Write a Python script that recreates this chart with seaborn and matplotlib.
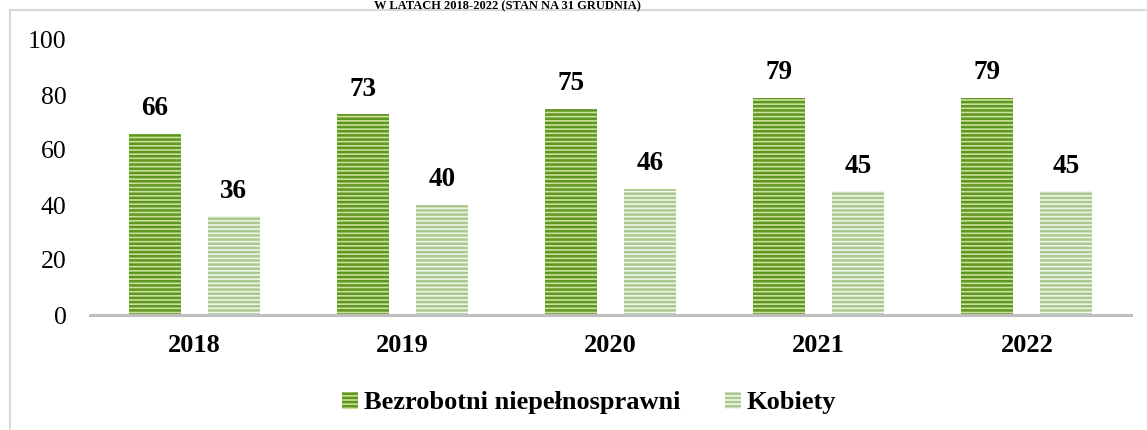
import matplotlib
matplotlib.use("Agg")
import matplotlib.pyplot as plt
import seaborn as sns
import pandas as pd
from matplotlib.patches import Rectangle, Patch

years = ["2018", "2019", "2020", "2021", "2022"]
series_names = ["Bezrobotni niepełnosprawni", "Kobiety"]
disabled = [66, 73, 75, 79, 79]
women = [36, 40, 46, 45, 45]
yticks = [0, 20, 40, 60, 80, 100]
title_text = "W LATACH 2018-2022 (STAN NA 31 GRUDNIA)"

df = pd.DataFrame({
    "year": years * 2,
    "series": [series_names[0]] * len(years) + [series_names[1]] * len(years),
    "value": disabled + women,
})

sns.set_theme(style="white")
plt.rcParams["font.family"] = ["Liberation Serif", "DejaVu Serif"]
plt.rcParams["hatch.linewidth"] = 1.8
plt.rcParams["text.color"] = "black"
plt.rcParams["xtick.color"] = "black"
plt.rcParams["ytick.color"] = "black"
plt.rcParams["xtick.labelcolor"] = "black"
plt.rcParams["ytick.labelcolor"] = "black"

face = {series_names[0]: "#c7e09a", series_names[1]: "#eef4e8"}
stripe = {series_names[0]: "#5e961f", series_names[1]: "#a9c98e"}

fig = plt.figure(figsize=(11.47, 4.30), dpi=100)
ax = fig.add_axes([90 / 1147, 115 / 430, 1041 / 1147, 275 / 430])

sns.barplot(data=df, x="year", y="value", hue="series", hue_order=series_names,
            order=years, palette=face, width=0.76, gap=0.342, ax=ax,
            legend=False, errorbar=None, saturation=1)

for cont, name in zip(ax.containers, series_names):
    for p in cont:
        p.set_facecolor(face[name])
        p.set_edgecolor(stripe[name])
        p.set_hatch("----")
        p.set_linewidth(0)
    ax.bar_label(cont, fmt="%d", padding=9, fontsize=19.5, fontweight="bold",
                 color="black")

ax.set_xlim(-0.5, 4.5)
ax.set_ylim(0, 100)
ax.set_yticks(yticks)
ax.set_yticklabels([str(t) for t in yticks], fontsize=18.5, color="black")
ax.tick_params(axis="y", length=0, pad=17)
ax.tick_params(axis="x", length=0, pad=14)
for lab in ax.get_xticklabels():
    lab.set_fontsize(19)
    lab.set_fontweight("bold")
    lab.set_color("black")
ax.set_xlabel("")
ax.set_ylabel("")
for s in ["top", "right", "left"]:
    ax.spines[s].set_visible(False)
ax.spines["bottom"].set_color("#bfbfbf")
ax.spines["bottom"].set_linewidth(2.2)
ax.grid(False)

handles = [Patch(facecolor=face[n], edgecolor=stripe[n], hatch="----", linewidth=0)
           for n in series_names]
leg = fig.legend(handles, series_names, loc="center", bbox_to_anchor=(589 / 1147, 1 - 403 / 430),
                 ncol=2, frameon=False, handlelength=0.6, handleheight=0.6,
                 handletextpad=0.2, columnspacing=1.7, labelcolor="black",
                 prop={"family": ["Liberation Serif"], "weight": "bold", "size": 19})

# chart frame (extends past the right and bottom edges)
fig.patches.append(Rectangle((10 / 1147, -0.1), 1.2, 1 - 10 / 430 + 0.1,
                             transform=fig.transFigure, fill=False,
                             edgecolor="#d9d9d9", linewidth=1.5))

# title strip at the very top
fig.text(507 / 1147, 1 - 0.5 / 430, title_text, ha="center", va="top",
         fontsize=9, fontweight="bold", color="black")

fig.savefig("out.png", dpi=100)
